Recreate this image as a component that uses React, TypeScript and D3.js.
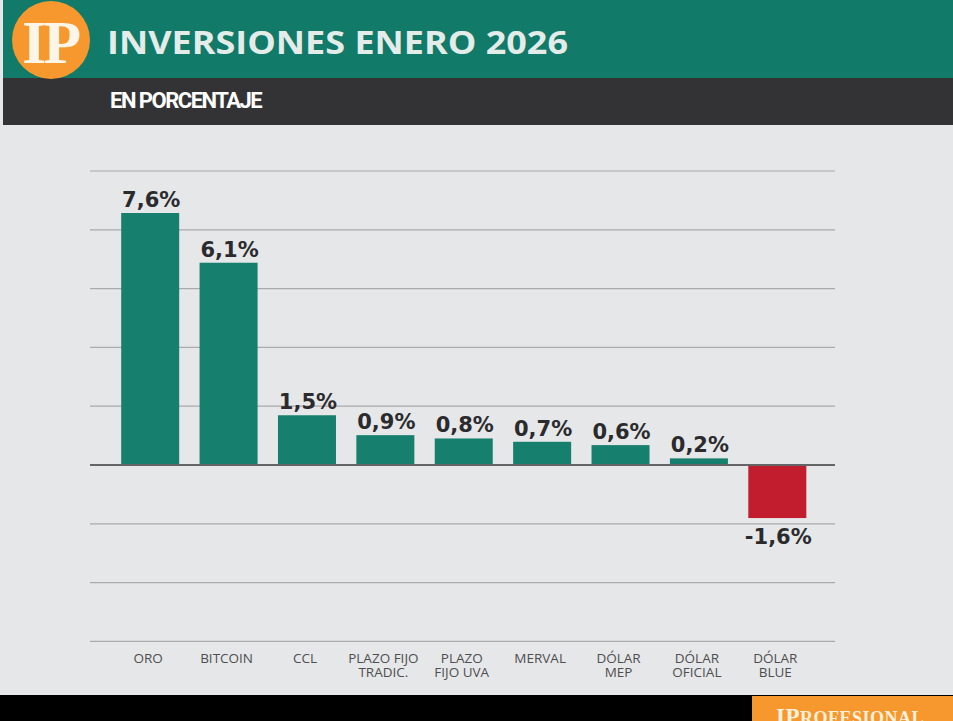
import * as d3 from 'd3';

const categories = ['ORO', 'BITCOIN', 'CCL', 'PLAZO FIJO|TRADIC.', 'PLAZO|FIJO UVA', 'MERVAL', 'DÓLAR|MEP', 'DÓLAR|OFICIAL', 'DÓLAR|BLUE'];
const values = [7.6, 6.1, 1.5, 0.9, 0.8, 0.7, 0.6, 0.2, -1.6];
const valueLabels = ['7,6%', '6,1%', '1,5%', '0,9%', '0,8%', '0,7%', '0,6%', '0,2%', '-1,6%'];
// gridlines, in steps of one grid unit (~1.77 points)
const gridSteps = [-3, -2, -1, 1, 2, 3, 4, 5];

const W = 953;
const H = 721;

const App = () => {
    const x = d3.scaleBand<string>()
        .domain(categories)
        .range([111, 816.5])
        .paddingInner(0.26)
        .paddingOuter(0.13);

    const y = d3.scaleLinear()
        .domain([0, 7.6])
        .range([465, 213]);

    const gridStep = y.invert(465 - 58.8);

    const teal = '#177f6d';
    const red = '#c11d2e';

    return (
        <svg width={W} height={H} style={{ position: 'absolute', left: 0, top: 0, display: 'block' }}>
            <rect x={0} y={0} width={W} height={H} fill="#e6e7e9" />

            {/* header */}
            <rect x={0} y={0} width={W} height={78} fill="#117a68" />
            <rect x={0} y={78} width={W} height={47} fill="#333234" />
            <rect x={0} y={0} width={3} height={125} fill="#e6e7e9" />
            <circle cx={51} cy={40} r={39} fill="#f7982f" />
            <text x={50} y={63} textAnchor="middle" fontFamily="Liberation Serif" fontWeight="bold" fontSize={62}
                fill="#fdf6e8" letterSpacing={-3}>IP</text>
            <text x={107} y={54} fontFamily="Open Sans" fontWeight="bold" fontSize={32} fill="#e4ecea"
                textLength={461} lengthAdjust="spacingAndGlyphs">INVERSIONES ENERO 2026</text>
            <text x={110} y={108} fontFamily="Roboto" fontWeight="bold" fontSize={22} fill="#ffffff"
                letterSpacing={-1.5}>EN PORCENTAJE</text>

            {/* gridlines */}
            {gridSteps.map(k => (
                <line key={k} x1={90} x2={835} y1={y(k * gridStep)} y2={y(k * gridStep)}
                    stroke="#a9aaac" strokeWidth={1.2} />
            ))}

            {/* bars */}
            {categories.map((c, i) => {
                const v = values[i];
                const y0 = y(Math.max(0, v));
                const y1 = y(Math.min(0, v));
                return (
                    <rect key={c} x={x(c)} y={y0} width={x.bandwidth()} height={y1 - y0}
                        fill={v < 0 ? red : teal} />
                );
            })}

            <line x1={90} x2={835} y1={y(0)} y2={y(0)} stroke="#656567" strokeWidth={2} />

            {/* value labels */}
            {categories.map((c, i) => {
                const v = values[i];
                const cx = (x(c) ?? 0) + x.bandwidth() / 2 + 1;
                const ty = v >= 0 ? y(v) - 6 : y(v) + 26;
                return (
                    <text key={c} x={cx} y={ty} textAnchor="middle" fontFamily="DejaVu Sans" fontWeight="bold"
                        fontSize={21} fill="#2b2b2d">{valueLabels[i]}</text>
                );
            })}

            {/* category labels */}
            {categories.map(c => {
                const cx = (x(c) ?? 0) + x.bandwidth() / 2 - 2;
                const lines = c.split('|');
                return (
                    <g key={c}>
                        {lines.map((l, j) => (
                            <text key={j} x={cx} y={663 + j * 14} textAnchor="middle" fontFamily="Open Sans"
                                fontSize={13.5} fill="#4e4e50">{l}</text>
                        ))}
                    </g>
                );
            })}

            {/* footer */}
            <rect x={0} y={695} width={W} height={26} fill="#000000" />
            <rect x={752} y={696} width={201} height={25} fill="#f7982f" />
            <text x={776} y={724} fontFamily="Liberation Serif" fontWeight="bold" fill="#fdf1dc" letterSpacing={0.5}>
                <tspan fontSize={23}>IP</tspan>
                <tspan fontSize={18}>ROFESIONAL</tspan>
            </text>
        </svg>
    );
};

export default App;
